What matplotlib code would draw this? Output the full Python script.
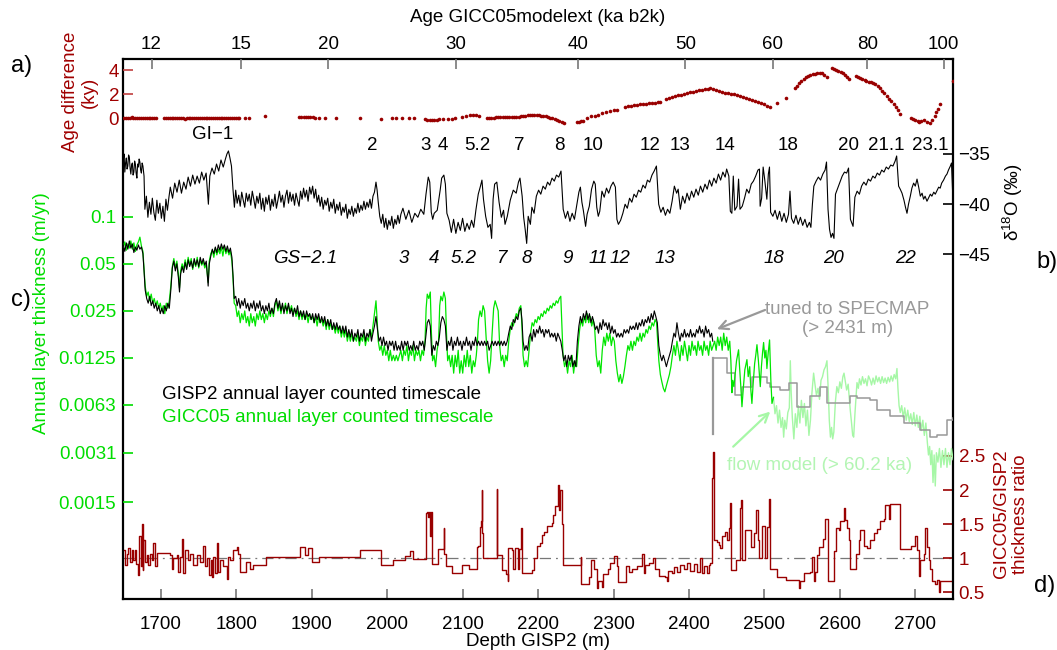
import numpy as np
import matplotlib
matplotlib.use("Agg")
import matplotlib.pyplot as plt
from matplotlib.ticker import NullLocator

plt.rcParams['font.family'] = ['Liberation Sans', 'DejaVu Sans']
plt.rcParams['mathtext.fontset'] = 'custom'
plt.rcParams['mathtext.rm'] = 'Liberation Sans'
plt.rcParams['mathtext.it'] = 'Liberation Sans:italic'

# ---------------- data (depth in m GISP2) ----------------
# top axis: GICC05modelext age ticks (ka b2k) at GISP2 depth
age_ticks = [12, 15, 20, 30, 40, 50, 60, 80, 100]
age_tick_depth = [1687.4, 1806.6, 1921.4, 2090.8, 2253.3, 2395.1, 2510.9, 2636.2, 2737.5]

# a) age difference GICC05 - GISP2 (ky)
age_diff = [
    (1651, 0.05), (1653.5, 0.06), (1656, 0.04), (1658.5, 0.05), (1661, 0.07), (1663.5, 0.05),
    (1666, 0.04), (1668.5, 0.06), (1671, 0.05), (1673.5, 0.04), (1676, 0.06), (1678.5, 0.05),
    (1681, 0.03), (1683.5, 0.05), (1686, 0.06), (1688.5, 0.04), (1691, 0.03), (1693.5, 0.02),
    (1704, 0.0), (1706.5, 0.01), (1709, -0.01), (1711.5, 0.0), (1714, 0.02), (1716.5, 0.0),
    (1719, -0.01), (1721.5, 0.01), (1724, 0.0), (1726.5, 0.02), (1729, 0.0), (1731.5, -0.02),
    (1734, 0.0), (1736.5, 0.01), (1739, 0.0), (1741.5, -0.01), (1744, 0.0), (1746.5, 0.01),
    (1749, 0.0), (1751.5, 0.02), (1754, 0.0), (1756.5, -0.01), (1759, 0.0), (1761.5, 0.01),
    (1764, 0.0), (1766.5, 0.0), (1769, 0.01), (1771.5, 0.0), (1774, 0.02), (1776.5, 0.01),
    (1779, 0.0), (1781.5, 0.02), (1784, 0.01), (1786.5, 0.03), (1789, 0.02), (1791.5, 0.03),
    (1794, 0.02), (1796.5, 0.04), (1799, 0.03), (1801.5, 0.05), (1804, 0.04),
    (1811, 0.05), (1816, 0.06), (1838, 0.2),
    (1883, 0.08), (1886, 0.07), (1889, 0.08), (1892, 0.09), (1895, 0.08), (1898, 0.07),
    (1901, 0.07), (1904, 0.06), (1910, 0.05), (1917, 0.03), (1932.6, 0.0),
    (1964, 0.0), (1992, -0.08), (2006, 0.0), (2011, 0.0), (2020, 0.02), (2029, 0.0), (2036, 0.0),
    (2050, -0.08), (2053, -0.12), (2056, -0.15), (2059, -0.17), (2062, -0.15), (2066, -0.12),
    (2069, -0.08), (2074, -0.05), (2080, -0.03), (2086, -0.02), (2090, 0.0),
    (2099, 0.12), (2104, 0.18), (2110, 0.25), (2114, 0.3), (2118, 0.28), (2122, 0.2),
    (2132, 0.05), (2135, 0.05), (2138, 0.06), (2141, 0.06), (2144, 0.07), (2147, 0.08),
    (2150, 0.08), (2153, 0.09), (2156, 0.1), (2159, 0.1), (2162, 0.12), (2165, 0.12),
    (2168, 0.13), (2171, 0.12), (2174, 0.14), (2177, 0.15), (2180, 0.18), (2183, 0.22),
    (2186, 0.26), (2189, 0.28), (2192, 0.3), (2195, 0.3), (2198, 0.28), (2201, 0.26),
    (2204, 0.23), (2207, 0.2), (2210, 0.15), (2213, 0.1), (2216, 0.05), (2219, 0.0),
    (2222, -0.06), (2225, -0.12), (2228, -0.2), (2231, -0.28), (2234, -0.36),
    (2251, -0.28), (2254, -0.27), (2257, -0.25), (2260, -0.2),
    (2265, 0.05), (2270, 0.15), (2275, 0.22), (2280, 0.3), (2285, 0.42), (2290, 0.52),
    (2295, 0.6), (2300, 0.67), (2305, 0.72),
    (2315, 0.98), (2319, 1.02), (2323, 1.06), (2327, 1.1), (2331, 1.13), (2335, 1.16),
    (2339, 1.2), (2343, 1.22), (2347, 1.25), (2351, 1.28), (2355, 1.31), (2359, 1.33), (2362, 1.36),
    (2369, 1.58), (2373, 1.66), (2377, 1.74), (2381, 1.82), (2385, 1.9), (2389, 1.98),
    (2393, 2.05), (2397, 2.1), (2401, 2.15), (2405, 2.22), (2409, 2.28), (2413, 2.32),
    (2417, 2.36), (2421, 2.4), (2425, 2.44), (2428, 2.5), (2432, 2.42), (2436, 2.33),
    (2440, 2.25), (2444, 2.18), (2448, 2.1), (2452, 2.1), (2456, 2.04), (2460, 2.0),
    (2464, 1.96), (2468, 1.88), (2472, 1.8), (2476, 1.72), (2480, 1.62), (2484, 1.52),
    (2488, 1.43), (2492, 1.34), (2496, 1.25), (2500, 1.15), (2504, 1.05), (2507.7, 0.96),
    (2516.7, 1.3), (2528, 1.72),
    (2540, 2.5), (2543, 2.73), (2546, 2.95), (2549, 3.1), (2552, 3.25), (2555, 3.4),
    (2558, 3.5), (2561, 3.6), (2564, 3.68), (2567, 3.72), (2570, 3.76), (2573.6, 3.8),
    (2576, 3.74), (2579, 3.62), (2582.6, 3.44),
    (2589.4, 4.15), (2592, 4.1), (2595, 4.02), (2598, 3.95), (2601, 3.87), (2604, 3.75),
    (2607, 3.6), (2610, 3.42), (2612.2, 3.24),
    (2621.3, 3.52), (2624, 3.45), (2627, 3.35), (2630, 3.25), (2633, 3.15), (2635, 3.1),
    (2638, 3.05), (2641, 3.0), (2644, 2.96), (2647, 2.85), (2650, 2.68), (2653, 2.5),
    (2656, 2.3), (2659, 2.08), (2662, 1.87), (2665, 1.62), (2668, 1.4), (2671.3, 1.15),
    (2674, 0.9), (2677, 0.65), (2680.3, 0.38),
    (2694, 0.0), (2697, -0.1), (2700, -0.15), (2703, -0.22), (2705.3, -0.27), (2708, -0.2),
    (2712, -0.13), (2715, -0.3), (2719, -0.42), (2722, -0.15), (2725.8, 0.16), (2728, 0.5),
    (2730, 0.8), (2732.5, 1.15), (2749.4, 3.07),
]

# b) GISP2 d18O (permil)
d18o = [
    (1650, -35.6), (1651, -35.0), (1652, -36.8), (1653, -35.9), (1654, -35.4), (1655, -36.5),
    (1656, -36.2), (1657, -35.1), (1658, -35.3), (1659, -36.4), (1660, -37.0), (1661, -36.1),
    (1662, -35.9), (1663, -37.1), (1664, -36.8), (1665, -35.7), (1666, -36.0), (1667, -36.9),
    (1668, -37.4), (1669, -36.0), (1670, -36.3), (1671, -35.5), (1672, -35.8), (1673, -36.6),
    (1674, -36.9), (1675, -35.9), (1676, -36.2), (1677.5, -37.2),
    (1678.6, -40.5), (1680.6, -39.2), (1682.6, -41.3), (1684.6, -39.8), (1686.6, -41.0),
    (1688.5, -39.4), (1690.5, -40.8), (1692.5, -41.6), (1694.5, -39.6), (1696.5, -40.9),
    (1698.5, -39.9), (1700.5, -41.4), (1702.5, -40.2), (1704.5, -41.7), (1706.5, -39.5),
    (1708.5, -40.6), (1710.5, -39.3),
    (1712.3, -38.3), (1715.3, -39.4), (1718.2, -37.9), (1721.2, -38.8), (1724.2, -37.6),
    (1727.1, -38.9), (1730.1, -37.8), (1733.1, -38.5), (1736, -37.3), (1739, -38.2),
    (1742, -37.1), (1745, -38.0), (1747.9, -37.2), (1750.9, -37.9), (1753.9, -36.8),
    (1756.8, -37.6), (1759.8, -36.9), (1762.8, -40.0), (1764.7, -37.2),
    (1767.6, -36.4), (1770.6, -37.0), (1773.6, -36.0), (1776.5, -36.7), (1779.5, -35.6),
    (1782.5, -36.3), (1785.4, -35.5), (1787.4, -35.0), (1789.4, -34.7), (1791.4, -35.4),
    (1793.4, -36.2), (1795.4, -38.5), (1797.3, -40.3),
    (1799, -38.6), (1801, -39.9), (1803, -39.1), (1805, -40.2), (1807, -38.8), (1809, -39.6),
    (1811, -40.3), (1813, -38.9), (1815, -39.7), (1817, -39.0), (1819, -40.1), (1821, -38.7),
    (1823, -39.5), (1825, -40.4), (1827, -39.2), (1829, -39.9), (1831, -38.9), (1833, -40.5),
    (1835, -39.4), (1837, -40.7), (1839, -39.3), (1841, -40.0), (1843, -39.1), (1845, -40.6),
    (1847, -39.5), (1849, -40.2), (1851, -39.0), (1853, -40.4), (1855, -39.6), (1857, -38.7),
    (1859, -39.8), (1861, -39.1), (1863, -40.3), (1865, -39.2), (1867, -38.6), (1869, -39.9),
    (1871, -38.8), (1873, -39.7), (1875, -39.0), (1877, -40.1), (1879, -38.9), (1881, -39.6),
    (1883, -40.2), (1885, -38.7), (1887, -39.5), (1889, -38.4), (1891, -39.3), (1893, -38.6),
    (1895, -39.7), (1897, -38.3), (1899, -39.0), (1901, -38.2), (1903, -39.4), (1905, -38.5),
    (1907, -39.8), (1909, -39.1), (1911, -40.2), (1913, -39.3), (1915, -40.5), (1917, -39.6),
    (1919, -40.1), (1921, -39.4), (1923, -40.7), (1925, -39.8), (1927, -40.4), (1929, -39.5),
    (1931, -40.9), (1933, -40.0), (1935, -40.6), (1937, -39.8), (1939, -41.1), (1941, -40.3),
    (1943, -40.8), (1945, -40.0), (1947, -41.4), (1949, -40.5), (1951, -41.0), (1953, -40.2),
    (1955, -41.2), (1957, -40.4), (1959, -40.9), (1961, -39.9), (1963, -40.8), (1965, -40.1),
    (1967, -40.6), (1969, -39.7), (1971, -40.5), (1973, -39.8), (1975, -40.3), (1977, -39.5),
    (1979, -40.4), (1981, -39.2), (1983, -38.8), (1985, -37.8), (1986.5, -38.6), (1988, -39.8),
    (1990, -41.2), (1992, -41.9), (1994, -41.0), (1996, -42.3), (1998, -41.4), (2000, -42.5),
    (2002, -41.6), (2004, -42.1), (2006, -41.2), (2008, -42.4), (2010, -41.5), (2012, -42.0),
    (2014, -41.1), (2016, -41.9), (2018, -41.0),
    (2020.7, -40.4), (2024.6, -41.5), (2028.6, -40.6), (2032.5, -41.8), (2036.5, -40.9),
    (2040.5, -41.3), (2044.4, -40.5), (2048.4, -41.0), (2051.3, -39.0), (2054.3, -37.3),
    (2056.3, -37.8), (2058.3, -40.8), (2060.2, -41.5), (2062.2, -40.9), (2066.2, -40.6),
    (2070.1, -38.6), (2072.1, -37.4), (2075, -37.1), (2077, -38.0), (2079, -40.9),
    (2082, -41.6), (2084.9, -42.8), (2087.9, -41.5), (2090.9, -42.9), (2093.9, -41.8),
    (2096.8, -42.6), (2099.8, -41.4), (2102.8, -42.7), (2105.7, -41.9), (2108.7, -42.5),
    (2111.7, -41.6), (2114.6, -42.3), (2117.6, -40.5), (2120.6, -39.0), (2123.5, -38.2),
    (2125.5, -37.6), (2127.5, -39.5), (2130.4, -41.2), (2133.4, -42.3), (2136.4, -42.0),
    (2138.3, -43.4), (2140.3, -39.5), (2142.3, -38.0), (2145.2, -37.8), (2148.2, -39.8),
    (2151.2, -41.3), (2154.1, -40.6), (2156.1, -42.0), (2159.1, -41.2), (2163, -39.6),
    (2167, -38.6), (2170.9, -38.9), (2173.9, -37.8), (2175.9, -37.4), (2178.8, -39.2),
    (2180.8, -41.3), (2182.8, -42.5), (2184.8, -43.9), (2186.8, -41.2), (2189.7, -42.0),
    (2191.7, -40.3), (2194.6, -40.9), (2197.6, -39.2), (2200.6, -38.6), (2203.5, -39.0),
    (2206.5, -38.2), (2209.5, -38.5), (2212.5, -37.8), (2215.4, -38.1), (2218.4, -37.4),
    (2221.4, -37.7), (2224.3, -37.1), (2227.3, -37.3), (2230.3, -36.7), (2233.2, -40.5),
    (2236.2, -41.4), (2239.2, -40.7), (2242.1, -41.7), (2245.1, -40.9), (2248.1, -41.5),
    (2251, -40.2), (2254, -38.8), (2256, -38.3), (2258, -39.8), (2259.9, -40.6),
    (2262.9, -42.2), (2264.9, -41.0), (2267.8, -40.2), (2270.8, -38.5), (2273.8, -37.7),
    (2275.7, -38.0), (2277.7, -40.3), (2279.7, -41.2), (2281.7, -40.7), (2284.6, -38.7),
    (2287.6, -39.3), (2290.6, -38.4), (2293.5, -38.9), (2296.5, -38.2), (2299.5, -37.8),
    (2302.4, -38.3), (2304.4, -41.5), (2306.4, -42.0), (2309.3, -41.6), (2312.3, -40.9),
    (2315.3, -40.0), (2318.2, -40.4), (2321.2, -39.4), (2324.2, -39.8), (2327.1, -39.0),
    (2330.1, -39.3), (2333.1, -38.6), (2336, -38.8), (2339, -38.1), (2342, -38.4),
    (2344.9, -37.6), (2347.9, -37.8), (2350.9, -37.1), (2353.8, -36.7), (2356.8, -36.2),
    (2359.8, -40.0), (2362.7, -40.8), (2365.7, -40.3), (2368.7, -41.1), (2371.6, -40.5),
    (2374.6, -40.9), (2377.6, -39.7), (2380.6, -38.2), (2383.6, -38.9), (2385.6, -38.5),
    (2388.5, -40.5), (2391.5, -39.2), (2394.5, -39.9), (2397.4, -38.9), (2400.4, -39.6),
    (2403.4, -38.7), (2406.3, -39.3), (2409.3, -38.5), (2412.3, -39.1), (2415.2, -38.2),
    (2418.2, -38.8), (2421.2, -38.0), (2424.1, -38.5), (2427.1, -37.6), (2430.1, -38.2),
    (2433, -37.4), (2436, -37.9), (2439, -37.0), (2441.9, -37.6), (2444.9, -36.8),
    (2447.9, -37.3), (2449.9, -36.5), (2452.8, -37.2), (2454.8, -40.7), (2456.8, -40.9),
    (2458.7, -37.2), (2460.7, -40.6), (2463.7, -40.2), (2465.7, -37.5), (2467.6, -40.5),
    (2470.6, -40.2), (2473.6, -39.4), (2476.5, -38.5), (2479.5, -38.9), (2482.5, -38.0),
    (2485.4, -37.7), (2488.4, -37.2), (2491.4, -36.6), (2493.4, -36.5), (2494.3, -40.2),
    (2496.3, -39.4), (2498.3, -36.3), (2500.3, -37.5), (2503.2, -39.5), (2505.2, -37.0),
    (2506.7, -36.3), (2508.2, -40.8), (2511.2, -41.2), (2514.1, -40.6), (2517.1, -41.5),
    (2520.1, -40.7), (2523, -41.7), (2526, -40.9), (2529, -41.8), (2531.9, -41.0),
    (2533.9, -38.7), (2535.9, -41.4), (2538.8, -41.9), (2541.8, -41.1), (2544.8, -42.0),
    (2547.7, -41.3), (2550.7, -42.1), (2553.7, -41.5), (2556.6, -42.3), (2559.6, -41.8),
    (2561.6, -42.3), (2563.6, -40.0), (2565.5, -38.2), (2568.5, -37.7), (2571.5, -37.3),
    (2574.4, -37.6), (2577.4, -37.0), (2580.4, -36.6), (2582.3, -35.8), (2584.3, -40.5),
    (2586.3, -42.5), (2588.3, -43.3), (2590.3, -42.9), (2592.2, -43.4), (2594.2, -39.0),
    (2597.2, -38.4), (2600.1, -37.8), (2603.1, -37.2), (2606.1, -36.8), (2609, -36.9),
    (2611.5, -36.4), (2614, -41.5), (2616, -41.9), (2617.5, -42.2), (2619.9, -39.3),
    (2622.9, -38.7), (2625.9, -39.0), (2628.8, -38.2), (2631.8, -37.8), (2634.8, -38.1),
    (2637.7, -37.5), (2640.7, -37.7), (2643.7, -37.2), (2646.6, -37.4), (2649.6, -36.9),
    (2652.6, -37.1), (2655.5, -36.6), (2658.5, -36.8), (2661.5, -36.3), (2664.4, -36.5),
    (2667.4, -36.1), (2670.4, -36.2), (2673.3, -35.7), (2675.3, -35.2), (2677.9, -38.2),
    (2680, -38.5), (2682.4, -38.9), (2685, -39.6), (2687, -40.3), (2689, -40.9),
    (2691, -40.0), (2693.4, -39.2), (2695.5, -38.4), (2697.8, -37.9), (2700, -38.2),
    (2702.3, -37.5), (2704.5, -38.3), (2706.7, -39.2), (2709, -38.9), (2711, -39.5),
    (2713, -39.2), (2715.5, -39.7), (2718, -39.3), (2720, -39.0), (2722, -39.2),
    (2724.5, -38.8), (2726.5, -39.0), (2729, -38.6), (2731, -38.3), (2733, -38.4),
    (2735, -37.9), (2737.5, -37.6), (2740, -37.2), (2742, -37.0), (2744, -36.6),
    (2746.5, -36.2), (2748, -35.9), (2749.5, -38.8),
]

# c) annual layer thickness (m/yr), GISP2 layer counted (to 2431 m)
thk_gisp2 = [
    (1650, 0.066), (1652, 0.060), (1654, 0.068), (1656, 0.062), (1658, 0.070), (1660, 0.063),
    (1662, 0.067), (1664, 0.059), (1666, 0.064), (1668, 0.061), (1670, 0.066), (1672, 0.062),
    (1674, 0.064), (1676, 0.058), (1677.5, 0.045),
    (1679, 0.034), (1681, 0.030), (1683, 0.028), (1685, 0.031), (1687, 0.027), (1689, 0.029),
    (1691, 0.026), (1693, 0.028), (1695, 0.025), (1697, 0.027), (1699, 0.024), (1701, 0.026),
    (1703, 0.024), (1705, 0.027), (1707, 0.025), (1709, 0.028), (1711, 0.026),
    (1713, 0.034), (1715, 0.047), (1717, 0.052), (1719, 0.045), (1721, 0.050), (1723, 0.041),
    (1724.5, 0.033), (1726, 0.043), (1728, 0.048), (1730, 0.044), (1732, 0.051), (1734, 0.046),
    (1736, 0.053), (1738, 0.048), (1740, 0.052), (1742, 0.047), (1744, 0.054), (1746, 0.049),
    (1748, 0.053), (1750, 0.048), (1752, 0.055), (1754, 0.050), (1756, 0.054), (1758, 0.049),
    (1760, 0.052), (1762.5, 0.036), (1764, 0.050),
    (1766, 0.056), (1768, 0.062), (1770, 0.058), (1772, 0.064), (1774, 0.059), (1776, 0.066),
    (1778, 0.061), (1780, 0.067), (1782, 0.062), (1784, 0.066), (1786, 0.060), (1788, 0.065),
    (1790, 0.059), (1792, 0.063), (1794, 0.055), (1795.5, 0.042), (1797, 0.030),
    (1799, 0.031), (1801, 0.027), (1803, 0.030), (1805, 0.026), (1807, 0.029), (1809, 0.027),
    (1811, 0.030), (1813, 0.026), (1815, 0.028), (1817, 0.025), (1819, 0.028), (1821, 0.026),
    (1823, 0.029), (1825, 0.025), (1827, 0.028), (1829, 0.026), (1831, 0.029), (1833, 0.025),
    (1835, 0.027), (1837, 0.024), (1839, 0.027), (1841, 0.025), (1843, 0.028), (1845, 0.024),
    (1847, 0.026), (1849, 0.024), (1851, 0.028), (1853, 0.030), (1855, 0.026), (1857, 0.029),
    (1859, 0.025), (1861, 0.028), (1863, 0.024), (1865, 0.027), (1867, 0.025), (1869, 0.028),
    (1871, 0.024), (1873, 0.026), (1875, 0.023), (1877, 0.026), (1879, 0.024), (1881, 0.027),
    (1883, 0.023), (1885, 0.025), (1887, 0.023), (1889, 0.025), (1891, 0.022), (1893, 0.025),
    (1895, 0.023), (1897, 0.024), (1899, 0.022), (1901, 0.024), (1903, 0.021), (1905, 0.024),
    (1907, 0.022), (1909, 0.024), (1911, 0.021), (1913, 0.023), (1915, 0.021), (1917, 0.023),
    (1919, 0.020), (1921, 0.022), (1923, 0.020), (1925, 0.022), (1927, 0.019), (1929, 0.021),
    (1931, 0.019), (1933, 0.021), (1935, 0.019), (1937, 0.020), (1939, 0.018), (1941, 0.020),
    (1943, 0.018), (1945, 0.020), (1947, 0.017), (1949, 0.019), (1951, 0.017), (1953, 0.019),
    (1955, 0.016), (1957, 0.018), (1959, 0.017), (1961, 0.019), (1963, 0.016), (1965, 0.018),
    (1967, 0.017), (1969, 0.019), (1971, 0.016), (1973, 0.018), (1975, 0.017), (1977, 0.019),
    (1979, 0.016), (1981, 0.018), (1983, 0.020), (1985, 0.023), (1987, 0.019), (1989, 0.016),
    (1991, 0.017), (1993, 0.015), (1995, 0.017), (1997, 0.015), (1999, 0.016), (2001, 0.014),
    (2003, 0.016), (2005, 0.015), (2007, 0.016), (2009, 0.014), (2011, 0.016), (2013, 0.014),
    (2015, 0.015), (2017, 0.014),
    (2019, 0.016), (2021, 0.014), (2023, 0.016), (2025, 0.015), (2027, 0.016), (2029, 0.014),
    (2031, 0.015), (2033, 0.014), (2035, 0.016), (2037, 0.014), (2039, 0.015), (2041, 0.014),
    (2043, 0.016), (2045, 0.015), (2047, 0.016), (2049, 0.014),
    (2051, 0.017), (2053, 0.021), (2055, 0.022), (2057, 0.020), (2059, 0.013), (2061, 0.015),
    (2063, 0.014), (2065, 0.016), (2067, 0.015), (2069, 0.017), (2071, 0.021), (2073, 0.023),
    (2075, 0.022), (2077, 0.020), (2079, 0.014), (2081, 0.016),
    (2083, 0.015), (2085, 0.017), (2087, 0.014), (2089, 0.016), (2091, 0.015), (2093, 0.017),
    (2095, 0.015), (2097, 0.016), (2099, 0.014), (2101, 0.016), (2103, 0.015), (2105, 0.017),
    (2107, 0.015), (2109, 0.016), (2111, 0.014), (2113, 0.016), (2115, 0.015), (2117, 0.017),
    (2119, 0.015), (2121, 0.016), (2123, 0.015), (2125, 0.016),
    (2127, 0.015), (2129, 0.016), (2131, 0.015), (2133, 0.016), (2135, 0.014), (2137, 0.015),
    (2139, 0.016), (2141, 0.015), (2143, 0.016), (2145, 0.015), (2147, 0.016), (2149, 0.015),
    (2151, 0.016), (2153, 0.015), (2155, 0.016), (2157, 0.015), (2159, 0.016),
    (2161, 0.018), (2163, 0.020), (2165, 0.019), (2167, 0.022), (2169, 0.021), (2171, 0.023),
    (2173, 0.022), (2175, 0.025), (2177, 0.026), (2178.5, 0.022),
    (2180, 0.016), (2182, 0.014), (2184, 0.015), (2186, 0.014),
    (2188, 0.017), (2190, 0.018), (2192, 0.016), (2194, 0.019), (2196, 0.017), (2198, 0.019),
    (2200, 0.018), (2202, 0.020), (2204, 0.018), (2206, 0.019), (2208, 0.017), (2210, 0.019),
    (2212, 0.018), (2214, 0.019), (2216, 0.017), (2218, 0.018), (2220, 0.017), (2222, 0.018),
    (2224, 0.016), (2226, 0.018), (2228, 0.017), (2230, 0.016),
    (2232, 0.014), (2234, 0.012), (2236, 0.013), (2238, 0.011), (2240, 0.013), (2242, 0.012),
    (2244, 0.013), (2246, 0.011), (2248, 0.012), (2250, 0.011),
    (2252, 0.016), (2254, 0.020), (2256, 0.023), (2258, 0.021), (2260, 0.024), (2262, 0.022),
    (2264, 0.025), (2266, 0.022), (2268, 0.024), (2270, 0.021), (2272, 0.023), (2274, 0.021),
    (2276, 0.019), (2278, 0.020), (2280, 0.018), (2282, 0.021), (2284, 0.019), (2286, 0.022),
    (2288, 0.020), (2290, 0.021), (2292, 0.019), (2294, 0.021), (2296, 0.018), (2298, 0.020),
    (2300, 0.018), (2302, 0.019), (2304, 0.017), (2306, 0.018), (2308, 0.017), (2310, 0.018),
    (2312, 0.017), (2314, 0.019), (2316, 0.018), (2318, 0.019), (2320, 0.018), (2322, 0.020),
    (2324, 0.019), (2326, 0.020), (2328, 0.019), (2330, 0.021), (2332, 0.019), (2334, 0.021),
    (2336, 0.020), (2338, 0.022), (2340, 0.020), (2342, 0.022), (2344, 0.021), (2346, 0.023),
    (2348, 0.021), (2350, 0.024), (2352, 0.022), (2354, 0.025), (2356, 0.023), (2358, 0.021),
    (2360, 0.015), (2362, 0.013), (2364, 0.012), (2366, 0.013), (2368, 0.012), (2370, 0.011),
    (2372, 0.012), (2374, 0.013), (2376, 0.014),
    (2378, 0.016), (2380, 0.018), (2382, 0.017), (2384, 0.021), (2386, 0.018), (2388, 0.016),
    (2390, 0.018), (2392, 0.017), (2394, 0.019), (2396, 0.017), (2398, 0.018), (2400, 0.017),
    (2402, 0.019), (2404, 0.017), (2406, 0.018), (2408, 0.017), (2410, 0.019), (2412, 0.018),
    (2414, 0.020), (2416, 0.018), (2418, 0.019), (2420, 0.017), (2422, 0.020), (2424, 0.018),
    (2426, 0.019), (2428, 0.017), (2430, 0.018), (2431.5, 0.016),
]

# GISP2 tuned to SPECMAP (> 2431 m), step values
thk_tuned_depth = [2431.7, 2450.3, 2461.3, 2470.2, 2483.4, 2503.3, 2507.7, 2521, 2532, 2543.1,
                   2552, 2560.8, 2574, 2582.9, 2605, 2613.8, 2622.7, 2640.4, 2649.2, 2666.9,
                   2684.6, 2706.7, 2719.9, 2728.8, 2742, 2750]
thk_tuned = [0.0125, 0.0100, 0.0072, 0.0082, 0.0095, 0.0087, 0.0082, 0.0078, 0.0087, 0.0061,
             0.0061, 0.0071, 0.0082, 0.0064, 0.0064, 0.0071, 0.0069, 0.0067, 0.0058, 0.0053,
             0.0048, 0.0043, 0.0039, 0.0040, 0.0050, 0.0052]

# GICC05 layer counted
thk_gicc05 = [
    (1650, 0.064), (1652, 0.069), (1654, 0.061), (1656, 0.067), (1658, 0.063), (1660, 0.070),
    (1662, 0.062), (1664, 0.068), (1666, 0.060), (1668, 0.066), (1670, 0.069), (1672, 0.074),
    (1674, 0.065), (1676, 0.060), (1677.5, 0.047),
    (1679, 0.036), (1681, 0.031), (1683, 0.033), (1685, 0.029), (1687, 0.032), (1689, 0.028),
    (1691, 0.030), (1693, 0.027), (1695, 0.029), (1697, 0.026), (1699, 0.028), (1701, 0.025),
    (1703, 0.027), (1705, 0.024), (1707, 0.028), (1709, 0.026), (1711, 0.029),
    (1713, 0.036), (1715, 0.048), (1717, 0.054), (1719, 0.047), (1721, 0.052), (1723, 0.043),
    (1724.5, 0.035), (1726, 0.045), (1728, 0.050), (1730, 0.046), (1732, 0.053), (1734, 0.047),
    (1736, 0.055), (1738, 0.049), (1740, 0.054), (1742, 0.046), (1744, 0.052), (1746, 0.048),
    (1748, 0.055), (1750, 0.047), (1752, 0.053), (1754, 0.049), (1756, 0.052), (1758, 0.047),
    (1760, 0.050), (1762.5, 0.038), (1764, 0.052),
    (1766, 0.058), (1768, 0.061), (1770, 0.055), (1772, 0.063), (1774, 0.057), (1776, 0.062),
    (1778, 0.058), (1780, 0.064), (1782, 0.056), (1784, 0.065), (1786, 0.058), (1788, 0.062),
    (1790, 0.057), (1792, 0.060), (1794, 0.052), (1795.5, 0.040), (1797, 0.028),
    (1799, 0.027), (1801, 0.023), (1803, 0.025), (1805, 0.021), (1807, 0.024), (1809, 0.022),
    (1811, 0.025), (1813, 0.021), (1815, 0.023), (1817, 0.020), (1819, 0.024), (1821, 0.021),
    (1823, 0.023), (1825, 0.020), (1827, 0.024), (1829, 0.022), (1831, 0.025), (1833, 0.022),
    (1835, 0.024), (1837, 0.021), (1839, 0.024), (1841, 0.022), (1843, 0.025), (1845, 0.023),
    (1847, 0.026), (1849, 0.023), (1851, 0.027), (1853, 0.029), (1855, 0.025), (1857, 0.028),
    (1859, 0.024), (1861, 0.027), (1863, 0.025), (1865, 0.028), (1867, 0.024), (1869, 0.027),
    (1871, 0.025), (1873, 0.027), (1875, 0.024), (1877, 0.026), (1879, 0.023), (1881, 0.025),
    (1883, 0.022), (1885, 0.025), (1887, 0.022), (1889, 0.024), (1891, 0.022), (1893, 0.024),
    (1895, 0.021), (1897, 0.024), (1899, 0.022), (1901, 0.023), (1903, 0.021), (1905, 0.023),
    (1907, 0.020), (1909, 0.023), (1911, 0.021), (1913, 0.022), (1915, 0.020), (1917, 0.022),
    (1919, 0.019), (1921, 0.022), (1923, 0.019), (1925, 0.021), (1927, 0.019), (1929, 0.020),
    (1931, 0.018), (1933, 0.020), (1935, 0.018), (1937, 0.020), (1939, 0.017), (1941, 0.019),
    (1943, 0.017), (1945, 0.019), (1947, 0.016), (1949, 0.018), (1951, 0.016), (1953, 0.018),
    (1955, 0.016), (1957, 0.017), (1959, 0.016), (1961, 0.018), (1963, 0.015), (1965, 0.017),
    (1967, 0.016), (1969, 0.018), (1971, 0.015), (1973, 0.017), (1975, 0.016), (1977, 0.019),
    (1979, 0.017), (1981, 0.020), (1983, 0.024), (1985, 0.029), (1986.5, 0.022), (1988, 0.016),
    (1990, 0.014), (1992, 0.015), (1994, 0.013), (1996, 0.015), (1998, 0.013), (2000, 0.014),
    (2002, 0.012), (2004, 0.014), (2006, 0.012), (2008, 0.013), (2010, 0.012), (2012, 0.013),
    (2014, 0.012), (2016, 0.013),
    (2018, 0.014), (2020, 0.012), (2022, 0.014), (2024, 0.013), (2026, 0.015), (2028, 0.012),
    (2030, 0.014), (2032, 0.013), (2034, 0.015), (2036, 0.012), (2038, 0.014), (2040, 0.013),
    (2042, 0.014), (2044, 0.012), (2046, 0.014), (2048, 0.013),
    (2050, 0.016), (2051.5, 0.026), (2053, 0.032), (2055, 0.030), (2057, 0.033), (2058.5, 0.018),
    (2060, 0.012), (2062, 0.013), (2064, 0.011), (2066, 0.014),
    (2068, 0.016), (2069.5, 0.027), (2071, 0.031), (2073, 0.029), (2075, 0.033), (2077, 0.030),
    (2078.5, 0.018), (2080, 0.012),
    (2082, 0.013), (2084, 0.011), (2086, 0.013), (2088, 0.010), (2090, 0.013), (2092, 0.011),
    (2094, 0.014), (2096, 0.010), (2098, 0.012), (2100, 0.010), (2102, 0.013), (2104, 0.011),
    (2106, 0.014), (2108, 0.011), (2110, 0.013), (2112, 0.010), (2114, 0.012), (2116, 0.011),
    (2118, 0.013),
    (2119.5, 0.016), (2121, 0.022), (2123, 0.025), (2125, 0.023), (2127, 0.027), (2129, 0.025),
    (2131, 0.017), (2133, 0.012), (2135, 0.010), (2137, 0.012),
    (2139, 0.018), (2141, 0.026), (2143, 0.029), (2145, 0.027), (2147, 0.025), (2149, 0.015),
    (2151, 0.012), (2153, 0.013), (2155, 0.011), (2157, 0.013), (2159, 0.012),
    (2161, 0.016), (2163, 0.019), (2165, 0.021), (2167, 0.020), (2169, 0.022), (2171, 0.024),
    (2173, 0.023), (2175, 0.026), (2177, 0.027), (2178.5, 0.020),
    (2180, 0.013), (2182, 0.011), (2184, 0.012), (2186, 0.011),
    (2188, 0.014), (2190, 0.018), (2192, 0.021), (2194, 0.020), (2196, 0.022), (2198, 0.021),
    (2200, 0.023), (2202, 0.022), (2204, 0.024), (2206, 0.023), (2208, 0.025), (2210, 0.024),
    (2212, 0.026), (2214, 0.025), (2216, 0.027), (2218, 0.026), (2220, 0.028), (2222, 0.027),
    (2224, 0.029), (2226, 0.028), (2228, 0.030), (2230, 0.031), (2231.5, 0.020),
    (2233, 0.013), (2235, 0.011), (2237, 0.012), (2239, 0.010), (2241, 0.012), (2243, 0.011),
    (2245, 0.013), (2247, 0.010), (2249, 0.012), (2251, 0.011),
    (2253, 0.015), (2255, 0.019), (2257, 0.022), (2259, 0.020), (2261, 0.023), (2263, 0.021),
    (2265, 0.024), (2267, 0.021), (2269, 0.023), (2271, 0.020), (2273, 0.022), (2275, 0.019),
    (2277, 0.013), (2279, 0.011), (2281, 0.012), (2283, 0.010),
    (2285, 0.014), (2287, 0.017), (2289, 0.015), (2291, 0.018), (2293, 0.016), (2295, 0.018),
    (2297, 0.015), (2299, 0.017), (2301, 0.016),
    (2303, 0.012), (2305, 0.010), (2307, 0.0088), (2309, 0.0098), (2311, 0.0086), (2313, 0.0095),
    (2315, 0.011),
    (2317, 0.013), (2319, 0.015), (2321, 0.014), (2323, 0.016), (2325, 0.014), (2327, 0.016),
    (2329, 0.015), (2331, 0.017), (2333, 0.016), (2335, 0.018), (2337, 0.016), (2339, 0.018),
    (2341, 0.017), (2343, 0.019), (2345, 0.018), (2347, 0.020), (2349, 0.019), (2351, 0.021),
    (2353, 0.020), (2355, 0.022), (2357, 0.021), (2358.5, 0.016),
    (2360, 0.012), (2362, 0.0098), (2364, 0.0088), (2366, 0.0080), (2368, 0.0076), (2370, 0.0083),
    (2372, 0.0090), (2374, 0.0098), (2376, 0.011),
    (2378, 0.013), (2380, 0.015), (2382, 0.013), (2384, 0.016), (2386, 0.014), (2388, 0.012),
    (2390, 0.015), (2392, 0.013), (2394, 0.016), (2396, 0.014), (2398, 0.012), (2400, 0.015),
    (2402, 0.013), (2404, 0.016), (2406, 0.014), (2408, 0.015), (2410, 0.013), (2412, 0.016),
    (2414, 0.014), (2416, 0.015), (2418, 0.013), (2420, 0.016), (2422, 0.014), (2424, 0.015),
    (2426, 0.013), (2428, 0.016), (2430, 0.014), (2432, 0.015),
    (2434, 0.016), (2436, 0.014), (2438, 0.017), (2440, 0.015), (2442, 0.017), (2444, 0.014),
    (2446, 0.018), (2448, 0.015), (2450, 0.017), (2452, 0.014), (2454, 0.016), (2455.5, 0.012),
    (2456.9, 0.0075), (2458, 0.0090), (2459.5, 0.0082), (2461.3, 0.0100), (2463, 0.0120),
    (2465.7, 0.0141), (2467, 0.0110), (2468.5, 0.0085), (2470.2, 0.0061), (2472, 0.0080),
    (2474, 0.0105), (2476.8, 0.0122), (2478.5, 0.0095), (2480.5, 0.0110), (2482, 0.0078),
    (2483.4, 0.0064), (2485, 0.0085), (2487, 0.0115), (2488.5, 0.0130), (2490.1, 0.0152),
    (2492, 0.0120), (2494.5, 0.0082), (2496, 0.0110), (2497.5, 0.0135), (2498.9, 0.0157),
    (2500.5, 0.0125), (2502, 0.0140), (2503.3, 0.0107), (2505, 0.0135), (2506.8, 0.0163),
    (2508.5, 0.0090), (2510, 0.0064), (2512, 0.0070),
]

# GICC05 flow model (> 60.2 ka)
thk_flow = [
    (2512, 0.0070), (2514, 0.0055), (2516, 0.0062), (2518, 0.0048), (2520, 0.0058), (2522, 0.0045),
    (2524, 0.0052), (2525.5, 0.0039), (2527, 0.0050), (2529, 0.0044), (2531, 0.0056), (2533, 0.0060),
    (2534.3, 0.0120), (2535.5, 0.0075), (2537, 0.0052), (2539, 0.0038), (2541, 0.0055), (2543, 0.0045),
    (2545, 0.0062), (2547, 0.0048), (2549, 0.0067), (2551, 0.0052), (2553, 0.0064), (2555, 0.0046),
    (2557, 0.0058), (2559, 0.0040), (2561, 0.0050), (2563, 0.0075), (2565.2, 0.0100), (2567, 0.0085),
    (2569, 0.0072), (2571, 0.0080), (2573, 0.0068), (2575, 0.0090), (2577, 0.0095), (2579, 0.0105),
    (2581, 0.0110), (2582.9, 0.0120), (2584.5, 0.0080), (2586, 0.0050), (2587.5, 0.0039),
    (2589, 0.0045), (2590.5, 0.0038), (2592, 0.0042), (2594, 0.0065), (2596, 0.0082), (2598, 0.0075),
    (2600, 0.0088), (2602, 0.0080), (2604, 0.0095), (2605.5, 0.0100), (2607, 0.0090), (2609, 0.0078),
    (2611, 0.0085), (2613.8, 0.0058), (2615.5, 0.0048), (2617, 0.0040), (2618.3, 0.0039),
    (2620, 0.0055), (2622.7, 0.0087), (2624.5, 0.0080), (2626, 0.0092), (2628, 0.0084), (2630, 0.0095),
    (2632, 0.0086), (2634, 0.0092), (2636, 0.0083), (2638, 0.0096), (2640.4, 0.0090), (2642, 0.0084),
    (2644, 0.0093), (2646, 0.0085), (2648, 0.0096), (2650, 0.0088), (2652, 0.0094), (2654, 0.0086),
    (2656, 0.0095), (2658, 0.0087), (2660, 0.0093), (2662, 0.0086), (2664, 0.0094), (2666, 0.0088),
    (2668, 0.0096), (2670, 0.0089), (2672, 0.0098), (2674, 0.0092), (2675.7, 0.0107), (2677, 0.0080),
    (2678.5, 0.0062), (2680.1, 0.0056), (2682, 0.0062), (2684, 0.0052), (2686, 0.0060), (2688, 0.0050),
    (2690, 0.0058), (2692, 0.0049), (2694, 0.0055), (2696, 0.0047), (2698, 0.0056), (2700, 0.0046),
    (2702, 0.0054), (2704, 0.0045), (2706, 0.0053), (2708, 0.0043), (2710, 0.0050), (2712, 0.0040),
    (2714, 0.0048), (2716, 0.0036), (2717.5, 0.0030), (2719, 0.0034), (2720.5, 0.0026), (2722, 0.0032),
    (2723.5, 0.0020), (2725, 0.0030), (2726.5, 0.0019), (2728, 0.0031), (2730, 0.0027), (2732, 0.0033),
    (2734, 0.0025), (2736, 0.0032), (2738, 0.0026), (2740, 0.0033), (2742, 0.0025), (2744, 0.0031),
    (2746, 0.0026), (2748, 0.0033), (2750, 0.0028),
]

# d) GICC05/GISP2 thickness ratio (step values)
ratio = [
    (1650, 1.12), (1652, 0.90), (1654.4, 1.07), (1656.7, 1.15), (1658.9, 0.95), (1661, 1.12),
    (1663.3, 0.98), (1665.5, 1.12), (1667.5, 0.92), (1670, 0.76), (1671.2, 1.32), (1673, 0.88),
    (1674.3, 1.51), (1675.7, 0.83), (1676.5, 1.27), (1678.8, 0.95), (1681, 1.05), (1683.2, 0.90),
    (1685.4, 1.07), (1687.5, 0.97), (1689.8, 1.22), (1692, 0.88), (1694.2, 1.08), (1711.9, 1.05),
    (1714, 0.85), (1716.3, 1.0), (1720.8, 1.05), (1723, 0.80), (1725.2, 1.02), (1727.4, 1.28),
    (1729.6, 0.78), (1731.8, 1.12), (1736.2, 0.98), (1738.4, 1.07), (1742.9, 0.90), (1747.3, 1.05),
    (1751.7, 0.95), (1756.1, 1.18), (1758.3, 0.88), (1761.4, 1.0), (1764.1, 0.76), (1765.9, 0.98),
    (1767.6, 0.73), (1769.4, 1.02), (1771.6, 0.78), (1773.8, 1.22), (1775.1, 0.80), (1778.2, 0.98),
    (1782.6, 0.88), (1787, 0.69), (1789.3, 1.02), (1791.5, 0.98), (1795.9, 1.12), (1800.3, 1.17),
    (1802.5, 1.07), (1804.8, 0.80), (1812.7, 0.95), (1818, 0.85), (1822.4, 0.90), (1838.8, 1.02),
    (1884.3, 1.16), (1891, 1.05), (1895.4, 1.15), (1900.7, 0.94), (1909.5, 1.02), (1963.9, 1.12),
    (1991.3, 0.90), (2008.1, 0.97), (2023.6, 1.03), (2030.2, 1.10), (2034.6, 0.99),
    (2051, 1.66), (2053.2, 1.68), (2054.5, 1.61), (2055.8, 1.68), (2057, 1.32), (2058, 1.68),
    (2059, 1.14), (2059.8, 0.92), (2066.9, 1.14), (2075, 1.45), (2075.7, 1.07), (2077.5, 0.88),
    (2086.3, 0.79), (2098.7, 0.90), (2108.4, 0.84), (2118.6, 1.16), (2120.8, 1.18), (2123, 1.46),
    (2124.4, 1.54), (2125.2, 2.0), (2126.1, 1.37), (2127.5, 1.01), (2145.1, 2.01), (2146, 1.05),
    (2151.8, 0.83), (2157.1, 0.77), (2159.7, 0.67), (2160.6, 1.15), (2165, 1.12), (2167.2, 0.85),
    (2169.5, 1.15), (2173.9, 0.85), (2175.2, 1.13), (2177.4, 1.45), (2178.3, 0.78), (2191.5, 0.83),
    (2195.1, 1.0), (2198.2, 1.18), (2202.6, 1.22), (2204.8, 1.34), (2208.4, 1.39), (2211.5, 1.47),
    (2218.1, 1.52), (2220.3, 1.64), (2222.5, 1.76), (2226, 2.08), (2227.8, 1.71), (2229.1, 2.0),
    (2231.4, 1.51), (2232.7, 0.90), (2256.5, 1.02), (2257, 0.62), (2267.6, 0.72), (2270.3, 0.98),
    (2274.7, 0.85), (2277.8, 0.56), (2279.1, 0.67), (2284.4, 0.58), (2286.6, 0.77), (2293.2, 0.85),
    (2295.5, 0.93), (2301.2, 1.03), (2304.3, 0.88), (2306.5, 0.65), (2316.2, 0.88), (2319.8, 0.80),
    (2324.2, 0.85), (2330.8, 0.88), (2337.5, 1.07), (2339.7, 0.78), (2341.9, 0.90), (2346.3, 0.93),
    (2352.9, 1.0), (2355.1, 0.85), (2359.6, 0.74), (2368.4, 0.72), (2370.6, 0.66), (2372.8, 0.81),
    (2377.2, 0.79), (2379.5, 0.87), (2384, 0.80), (2388.4, 0.90), (2392.8, 0.85), (2397.2, 0.93),
    (2401.6, 0.82), (2406, 0.92), (2410.5, 0.80), (2414.9, 1.0), (2417.1, 0.78), (2419.3, 0.88),
    (2423.7, 0.78), (2426, 0.90), (2428.2, 0.93), (2430.4, 2.17), (2431.7, 2.56), (2432.6, 1.27),
    (2437, 1.24), (2439.2, 1.20), (2441.4, 1.15), (2443.6, 1.32), (2448, 1.39), (2450.3, 1.27),
    (2452.5, 1.44), (2454.7, 1.81), (2455.6, 0.83), (2462.6, 0.98), (2467, 1.73), (2468.8, 1.86),
    (2470.2, 0.98), (2474.6, 1.42), (2482.1, 1.17), (2485.6, 1.37), (2489.2, 1.71), (2490.9, 1.27),
    (2492.3, 1.0), (2496.7, 1.47), (2501.1, 1.0), (2503.3, 1.46), (2505.5, 1.87), (2506.8, 1.0),
    (2507.7, 0.85), (2516.6, 0.73), (2528.9, 0.68), (2545.3, 0.56), (2547.5, 0.66), (2551.9, 0.78),
    (2560.8, 0.80), (2563, 1.02), (2565.2, 0.66), (2567.4, 0.80), (2569.6, 1.05), (2571.8, 1.16),
    (2577.6, 1.29), (2580.7, 1.57), (2583.8, 0.66), (2592.6, 1.10), (2595.3, 1.44), (2598.4, 1.42),
    (2600.6, 1.54), (2605, 1.73), (2607.2, 1.56), (2609.4, 1.44), (2611.6, 1.27), (2613.8, 0.84),
    (2621.4, 1.07), (2624.9, 1.27), (2627.1, 1.41), (2632.4, 1.18), (2635.9, 1.15), (2639.5, 1.27),
    (2644.8, 1.37), (2649.2, 1.43), (2653.6, 1.54), (2658, 1.57), (2660.3, 1.78), (2664.7, 1.57),
    (2666.9, 1.80), (2679.3, 1.13), (2694.3, 1.18), (2700, 1.33), (2702.3, 1.12), (2704.5, 0.74),
    (2706.7, 0.98), (2711.1, 1.07), (2713.3, 1.45), (2715.5, 1.17), (2717.7, 0.98), (2720, 0.85),
    (2722.1, 0.66), (2726.6, 0.63), (2728.8, 0.68), (2731, 0.51), (2732.3, 0.66), (2750, 0.66),
]

# event labels (interstadials above, stadials below the d18O curve)
gi_labels = ['2', '3', '4', '5.2', '7', '8', '10', '12', '13', '14', '18', '20', '21.1', '23.1']
gi_depths = [1979.7, 2050.5, 2073.9, 2120, 2174.7, 2228.4, 2272.4, 2348.7, 2388.7, 2447.8,
             2531.3, 2611.3, 2661, 2720]
gs_labels = ['GS\u22122.1', '3', '4', '5.2', '7', '8', '9', '11', '12', '13', '18', '20', '22']
gs_depths = [1891, 2021.4, 2062.5, 2101, 2151, 2185, 2239.4, 2279.2, 2308.8, 2368.5,
             2513, 2591.7, 2686.7]

# ---------------- figure ----------------
W, H = 1057, 650
fig = plt.figure(figsize=(W / 100, H / 100), dpi=100)


def fx(px):
    return px / W


def fy(py):
    return 1 - py / H


rect = [fx(123.3), fy(599), (953 - 123.3) / W, (599 - 59) / H]
XLIM = (1650, 2750)
DRED = '#990000'
GREEN = '#00e600'
LGREEN = '#a6f7a6'
GRAY = '#999999'
FS = 13.5

# d) ratio axes carries the frame and the depth axis
ax = fig.add_axes(rect)
ax.set_xlim(*XLIM)
ax.set_ylim(0.403, 8.321)
rd, rv = np.array(ratio).T
ax.plot(rd, rv, drawstyle='steps-post', color=DRED, lw=1.0)
ax.axhline(1, color='#777777', lw=0.9, ls=(0, (9, 4, 1.5, 4)), zorder=0)
ax.yaxis.tick_right()
ax.set_yticks([0.5, 1, 1.5, 2, 2.5])
ax.set_yticklabels(['0.5', '1', '1.5', '2', '2.5'])
ax.tick_params(axis='y', direction='in', length=7, width=1.2, colors=DRED, labelsize=FS, pad=4)
ax.set_xticks(range(1700, 2701, 100))
ax.tick_params(axis='x', direction='in', length=7, width=1.2, color='#777777',
               labelcolor='black', labelsize=FS, pad=12)
for s in ax.spines.values():
    s.set_linewidth(1.6)

# c) annual layer thickness (log)
ax_t = fig.add_axes(rect, frameon=False)
ax_t.set_xlim(*XLIM)
ax_t.set_yscale('log')
ax_t.set_ylim(3.602e-4, 1.018)
fd, fv = np.array(thk_flow).T
ax_t.plot(fd, fv, color=LGREEN, lw=1.0)
ax_t.step(thk_tuned_depth, thk_tuned, where='post', color=GRAY, lw=1.1)
ax_t.plot([2431.7, 2431.7], [0.0125, 0.0041], color=GRAY, lw=1.6)
gd, gv = np.array(thk_gicc05).T
ax_t.plot(gd, gv, color=GREEN, lw=0.9)
bd, bv = np.array(thk_gisp2).T
ax_t.plot(bd, bv, color='black', lw=0.8)
th_ticks = [0.1, 0.05, 0.025, 0.0125, 0.0063, 0.0031, 0.0015]
ax_t.set_yticks(th_ticks)
ax_t.set_yticklabels([str(t) for t in th_ticks])
ax_t.yaxis.set_minor_locator(NullLocator())
ax_t.tick_params(axis='y', which='both', direction='in', length=7, width=1.2,
                 colors='#00dd00', labelsize=FS, pad=5)
ax_t.tick_params(axis='x', which='both', bottom=False, labelbottom=False)

ax_t.text(1701.6, 0.00725, 'GISP2 annual layer counted timescale', fontsize=FS,
          ha='left', va='center', color='black')
ax_t.text(1701.6, 0.00522, 'GICC05 annual layer counted timescale', fontsize=FS,
          ha='left', va='center', color='#00dd00')
ax_t.annotate('tuned to SPECMAP\n(> 2431 m)', xy=(2437, 0.0191), xytext=(2609.8, 0.0222),
              ha='center', va='center', color=GRAY, fontsize=FS, linespacing=1.15,
              arrowprops=dict(arrowstyle='->', color=GRAY, lw=1.6, shrinkA=0, shrinkB=0,
                              patchA=None, relpos=(0.0, 0.75), mutation_scale=16))
ax_t.annotate('', xy=(2507.7, 0.00568), xytext=(2458.6, 0.00339),
              arrowprops=dict(arrowstyle='->', color=LGREEN, lw=1.6, shrinkA=0, shrinkB=0,
                              mutation_scale=16))
ax_t.text(2573.4, 0.00257, 'flow model (> 60.2 ka)', fontsize=FS, ha='center', va='center',
          color='#b3f5b3')

# b) d18O
ax_o = fig.add_axes(rect, frameon=False)
ax_o.set_xlim(*XLIM)
ax_o.set_ylim(-79.28, -25.55)
od, ov = np.array(d18o).T
ax_o.plot(od, ov, color='black', lw=0.8)
ax_o.yaxis.tick_right()
ax_o.set_yticks([-35, -40, -45])
ax_o.tick_params(axis='y', direction='in', length=7, width=1.2, colors='black',
                 labelsize=FS, pad=4)
ax_o.tick_params(axis='x', bottom=False, labelbottom=False)
for lab, d in zip(gi_labels, gi_depths):
    ax_o.text(d, -34.11, lab, ha='center', va='center', fontsize=FS)
ax_o.text(1768.6, -33.1, 'GI\u22121', ha='center', va='center', fontsize=FS)
for lab, d in zip(gs_labels, gs_depths):
    ax_o.text(d, -45.38, lab, ha='center', va='center', fontsize=FS, style='italic')

# a) age difference
ax_a = fig.add_axes(rect, frameon=False)
ax_a.set_xlim(*XLIM)
ax_a.set_ylim(-40.06, 4.94)
ad, av = np.array(age_diff).T
ax_a.plot(ad, av, 'o', ms=2.6, color=DRED, mec='none')
ax_a.set_yticks([0, 2, 4])
ax_a.tick_params(axis='y', direction='in', length=7, width=1.2, color='#c04040',
                 labelcolor='#a00000', labelsize=FS, pad=3)
ax_a.tick_params(axis='x', bottom=False, labelbottom=False)

# top age axis
ax_top = fig.add_axes(rect, frameon=False)
ax_top.set_xlim(*XLIM)
ax_top.xaxis.tick_top()
ax_top.set_xticks(age_tick_depth)
ax_top.set_xticklabels([str(a) for a in age_ticks])
ax_top.tick_params(axis='x', direction='in', length=7, width=1.2, color='#777777',
                   labelcolor='black', labelsize=FS, pad=4)
ax_top.set_yticks([])

# axis titles and panel letters
fig.text(fx(538), fy(17), 'Age GICC05modelext (ka b2k)', ha='center', va='center', fontsize=FS)
fig.text(fx(538), fy(642), 'Depth GISP2 (m)', ha='center', va='center', fontsize=FS)
fig.text(fx(80), fy(92), 'Age difference\n(ky)', rotation=90, ha='center', va='center',
         color='#a00000', fontsize=FS, linespacing=1.1)
fig.text(fx(42), fy(313), 'Annual layer thickness (m/yr)', rotation=90, ha='center',
         va='center', color='#00dd00', fontsize=FS)
fig.text(fx(1013), fy(202), '\u03b4$^{18}$O (\u2030)', rotation=90, ha='center', va='center',
         fontsize=FS)
fig.text(fx(1011), fy(514), 'GICC05/GISP2\nthickness ratio', rotation=90, ha='center',
         va='center', color='#a00000', fontsize=FS, linespacing=1.1)
for lab, px, py in [('a)', 22, 66), ('b)', 1047, 262), ('c)', 21, 300), ('d)', 1045, 586)]:
    fig.text(fx(px), fy(py), lab, ha='center', va='center', fontsize=17)

fig.savefig('out.png', dpi=100)
